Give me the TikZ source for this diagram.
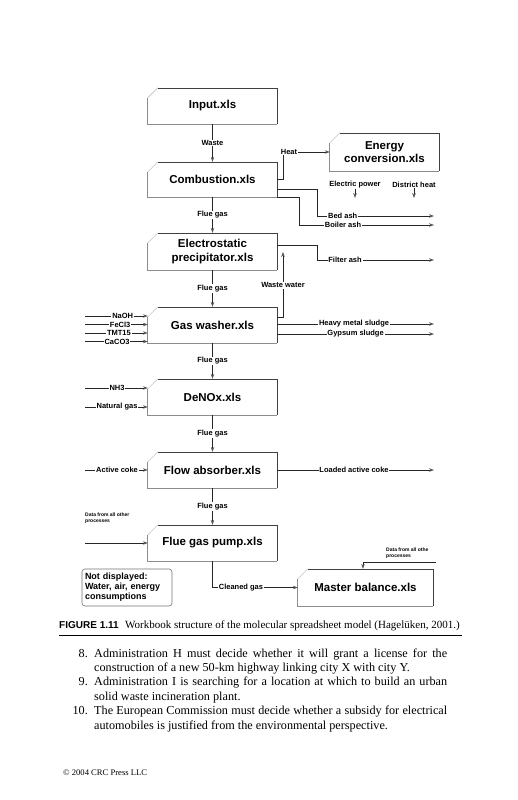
\documentclass[tikz,border=0pt]{standalone}
\usepackage{fontspec}
\setmainfont{Liberation Serif}
\setsansfont{Liberation Sans}
\usetikzlibrary{arrows.meta}
\begin{document}
\begin{tikzpicture}[x=1pt,y=-1pt,
  boxt/.style={rectangle, inner sep=0pt, align=center, font=\sffamily\bfseries\fontsize{11.5}{13.5}\selectfont},
  lab/.style={fill=white, inner sep=0.8pt, font=\sffamily\bfseries\fontsize{7.5}{8}\selectfont},
  small/.style={inner sep=0pt, align=left, font=\sffamily\bfseries\fontsize{5}{6.5}\selectfont},
  ln/.style={draw=black!85, line width=0.6pt},
  arr/.style={ln, -{Stealth[length=5pt,width=3.6pt,color=black!65]}},
  body/.style={inner sep=0pt, font=\fontsize{12.2}{14.4}\selectfont}
]
\useasboundingbox[fill=white] (0,0) rectangle (518,800);

% process boxes
\node[boxt, minimum width=129pt, minimum height=36pt] (inp) at (212.5,106) {Input.xls};
\node[boxt, minimum width=129pt, minimum height=35pt] (comb) at (212.5,179.5) {Combustion.xls};
\node[boxt, minimum width=129pt, minimum height=37pt] (esp) at (212.5,251.5) {Electrostatic\\precipitator.xls};
\node[boxt, minimum width=129pt, minimum height=36pt] (gw) at (212.5,325) {Gas washer.xls};
\node[boxt, minimum width=129pt, minimum height=36pt] (denox) at (212.5,397) {DeNOx.xls};
\node[boxt, minimum width=129pt, minimum height=36pt] (flow) at (212.5,470) {Flow absorber.xls};
\node[boxt, minimum width=129pt, minimum height=36pt] (pump) at (212.5,543) {Flue gas pump.xls};
\node[boxt, minimum width=109pt, minimum height=38pt] (energy) at (384.5,152) {Energy\\conversion.xls};
\node[boxt, minimum width=135pt, minimum height=37pt] (master) at (365.5,587.5) {Master balance.xls};

\foreach \b in {inp,comb,esp,gw,denox,flow,pump,energy,master}{
  \draw[black!30, line width=0.5pt] ([yshift=-10pt]\b.north west) -- ([xshift=10pt]\b.north west);
  \draw[black!75, line width=0.5pt] ([xshift=10pt]\b.north west) -- (\b.north east) -- (\b.south east);
  \draw[black!45, line width=1pt] (\b.south east) -- (\b.south west) -- ([yshift=-10pt]\b.north west);
}

% not displayed box
\node[draw=black!55, line width=0.6pt, rounded corners=3pt, minimum width=90pt, minimum height=37pt,
      text width=84pt, inner xsep=3pt, inner ysep=0pt, align=left,
      font=\sffamily\bfseries\fontsize{9}{10}\selectfont] (nd) at (127,587.5)
      {Not displayed:\\Water, air, energy\\consumptions};

% main flow
\draw[arr] (inp) -- node[lab] (lwaste) {Waste} (comb);
\draw[arr] (comb) -- node[lab] (lfg1) {Flue gas} (esp);
\draw[arr] (esp) -- node[lab] (lfg2) {Flue gas} (gw);
\draw[arr] (gw) -- node[lab] (lfg3) {Flue gas} (denox);
\draw[arr] (denox) -- node[lab] (lfg4) {Flue gas} (flow);
\draw[arr] (flow) -- node[lab] (lfg5) {Flue gas} (pump);

% heat and energy outputs
\draw[arr] (comb.east) -- (283,179.5) |- node[lab, pos=0.564] (lheat) {Heat} (energy.west);
\node[lab] (lep) at (355,184.5) {Electric power};
\node[lab] (ldh) at (414,184.5) {District heat};
\coordinate (epE) at (355,198);
\coordinate (dhE) at (414,198);
\draw[arr] (lep) -- (epE);
\draw[arr] (ldh) -- (dhE);

% ash outputs
\coordinate (bedE) at (434,216);
\coordinate (boilE) at (434,225);
\coordinate (filtE) at (434,260);
\draw[arr] ([yshift=-9.5pt]comb.east) -| (317,216) -- node[lab, pos=0.22] (lbed) {Bed ash} (bedE);
\draw[arr] (comb.south east) -| (299,225) -- node[lab, pos=0.326] (lboil) {Boiler ash} (boilE);
\draw[arr] ([yshift=6.5pt]esp.east) -| (317,260) -- node[lab, pos=0.24] (lfilt) {Filter ash} (filtE);

% waste water
\coordinate (wwE) at (283,252);
\draw[arr] ([yshift=8pt]gw.east) -- (283,317) -- node[lab, pos=0.49] (lww) {Waste water} (wwE);

% gas washer inputs
\coordinate (inNaOH) at (85,316);
\coordinate (inFeCl) at (85,324.5);
\coordinate (inTMT) at (85,333);
\coordinate (inCaCO) at (85,341.5);
\draw[arr] (inNaOH) -- node[lab, pos=0.6] (lnaoh) {NaOH} (gw.west |- inNaOH);
\draw[arr] (inFeCl) -- node[lab, pos=0.56] (lfecl) {FeCl3} (gw.west |- inFeCl);
\draw[arr] (inTMT) -- node[lab, pos=0.54] (ltmt) {TMT15} (gw.west |- inTMT);
\draw[arr] (inCaCO) -- node[lab, pos=0.51] (lcaco) {CaCO3} (gw.west |- inCaCO);

% gas washer outputs
\coordinate (hmsE) at (434,324);
\coordinate (gypE) at (434,334);
\draw[arr] ([yshift=1pt]gw.east) -- node[lab, pos=0.49] (lhms) {Heavy metal sludge} (hmsE);
\draw[arr] ([yshift=-9pt]gw.east) -- node[lab, pos=0.5] (lgyp) {Gypsum sludge} (gypE);

% DeNOx inputs
\coordinate (inNH) at (85,388);
\coordinate (inNG) at (85,407);
\draw[arr] (inNH) -- node[lab, pos=0.51] (lnh) {NH3} (denox.west |- inNH);
\draw[arr] (inNG) -- node[lab, pos=0.51] (lng) {Natural gas} (denox.west |- inNG);

% flow absorber
\coordinate (inAC) at (85,470);
\coordinate (lacE) at (434,470);
\draw[arr] (inAC) -- node[lab, pos=0.51] (lac) {Active coke} (flow.west);
\draw[arr] (flow.east) -- node[lab, pos=0.49] (llac) {Loaded active coke} (lacE);

% flue gas pump
\node[small, anchor=west] (dl) at (85,518) {Data from all other\\processes};
\coordinate (dlS) at (85,543);
\draw[arr] (dlS) -- (pump.west);
\draw[arr] (pump.south) |- node[lab, pos=0.667] (lcg) {Cleaned gas} (master.west);

% master balance data
\node[small, anchor=west] (dr) at (386,553) {Data from all othe\\processes};
\coordinate (drS) at (436,562);
\draw[arr] (drS) -| ([xshift=-2.5pt]master.north);

% caption
\node[anchor=base west, inner sep=0pt, font=\fontsize{11}{12}\selectfont] (cap) at (59,628.5)
  {{\sffamily\bfseries\fontsize{10}{12}\selectfont FIGURE 1.11}\hspace{6.5pt}Workbook structure of the molecular spreadsheet model (Hagelüken, 2001.)};
\draw[line width=0.8pt] (59,635) -- (462,635);

% body text
\node[body, anchor=base east] (n8) at (88,657) {8.};
\node[body, anchor=base west, text width=353pt, align=justify] (t8) at (94,657)
  {Administration H must decide whether it will grant a license for the\linebreak construction of a new 50-km highway linking city X with city Y.};
\node[body, anchor=base east] (n9) at (88,685.8) {9.};
\node[body, anchor=base west, text width=353pt, align=justify] (t9) at (94,685.8)
  {Administration I is searching for a location at which to build an urban\linebreak solid waste incineration plant.};
\node[body, anchor=base east] (n10) at (88,714.6) {10.};
\node[body, anchor=base west, text width=353pt, align=justify] (t10) at (94,714.6)
  {The European Commission must decide whether a subsidy for electrical\linebreak automobiles is justified from the environmental perspective.};

\node[anchor=base west, inner sep=0pt, font=\fontsize{8.6}{10}\selectfont] (copy) at (63,775) {\textcopyright{} 2004 CRC Press LLC};
\end{tikzpicture}
\end{document}
